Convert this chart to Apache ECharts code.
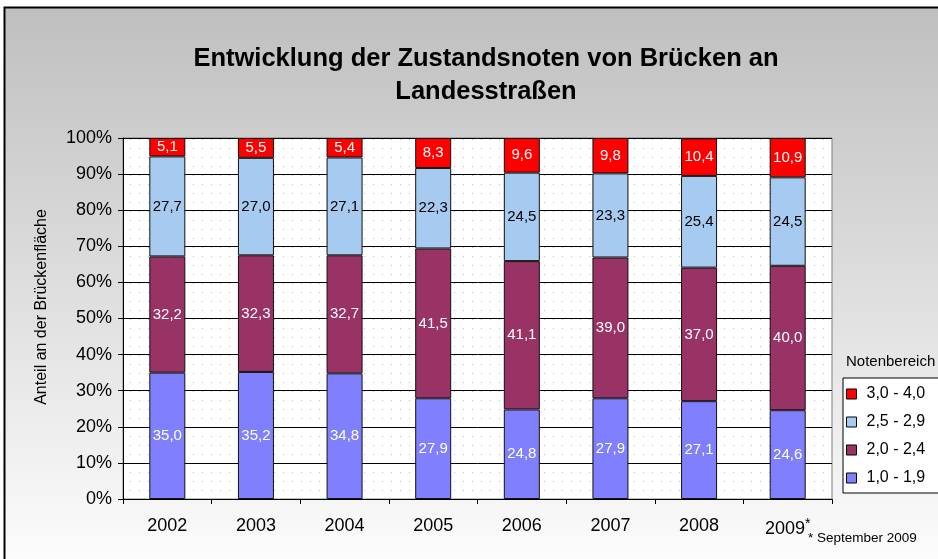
<!DOCTYPE html>
<html>
<head>
<meta charset="utf-8">
<script src="https://cdn.jsdelivr.net/npm/echarts@6/dist/echarts.min.js"></script>
<style>
  html, body { margin: 0; padding: 0; background: #fff; }
  #chart { width: 938px; height: 559px; }
</style>
</head>
<body>
<div id="chart"></div>
<script>
// Jahre und Anteile je Notenbereich (in %)
const years = ['2002', '2003', '2004', '2005', '2006', '2007', '2008', '2009*'];
const seriesNames = ['1,0 - 1,9', '2,0 - 2,4', '2,5 - 2,9', '3,0 - 4,0'];
const note10_19 = [35.0, 35.2, 34.8, 27.9, 24.8, 27.9, 27.1, 24.6];
const note20_24 = [32.2, 32.3, 32.7, 41.5, 41.1, 39.0, 37.0, 40.0];
const note25_29 = [27.7, 27.0, 27.1, 22.3, 24.5, 23.3, 25.4, 24.5];
const note30_40 = [5.1, 5.5, 5.4, 8.3, 9.6, 9.8, 10.4, 10.9];
const yTicks = [0, 10, 20, 30, 40, 50, 60, 70, 80, 90, 100];

const colors = ['#8080FF', '#993366', '#A6CAF0', '#FF0000'];
const labelColors = ['#fff', '#fff', '#000', '#fff'];
const values = [note10_19, note20_24, note25_29, note30_40];

// punktiertes Muster fuer die Zeichenflaeche
const dots = document.createElement('canvas');
dots.width = 9;
dots.height = 9;
const dctx = dots.getContext('2d');
dctx.fillStyle = '#fff';
dctx.fillRect(0, 0, 9, 9);
dctx.fillStyle = '#bdbdbd';
dctx.fillRect(4, 4, 1, 1);

const fmt = (v) => v.toFixed(1).replace('.', ',');

const series = values.map((data, i) => ({
  type: 'bar',
  name: seriesNames[i],
  stack: 'total',
  barWidth: 36,
  data: data,
  itemStyle: {
    color: colors[i],
    borderColor: '#111',
    borderWidth: 1
  },
  label: {
    show: true,
    position: 'inside',
    color: labelColors[i],
    fontFamily: 'Liberation Sans',
    fontSize: 15,
    formatter: (p) => fmt(p.value)
  }
}));

const option = {
  animation: false,
  textStyle: { fontFamily: 'Liberation Sans' },
  graphic: [{
    type: 'rect',
    z: -100,
    silent: true,
    shape: { x: 4.5, y: 7.5, width: 1000, height: 1000 },
    style: {
      fill: new echarts.graphic.LinearGradient(0, 0, 0, 1, [
        { offset: 0, color: '#bfbfbf' },
        { offset: 0.58, color: '#ffffff' },
        { offset: 1, color: '#ffffff' }
      ]),
      stroke: '#000',
      lineWidth: 2
    }
  }, {
    type: 'text',
    left: 846,
    top: 354,
    style: {
      text: 'Notenbereich',
      fontFamily: 'Liberation Sans',
      fontSize: 15,
      fill: '#000'
    }
  }, {
    type: 'text',
    left: 808,
    top: 531,
    style: {
      text: '* September 2009',
      fontFamily: 'Liberation Sans',
      fontSize: 13.5,
      fill: '#000'
    }
  }, {
    type: 'text',
    x: 42,
    y: 307,
    rotation: Math.PI / 2,
    style: {
      text: 'Anteil an der Brückenfläche',
      fontFamily: 'Liberation Sans',
      fontSize: 16,
      fill: '#000',
      align: 'center',
      verticalAlign: 'middle'
    }
  }],
  title: {
    text: 'Entwicklung der Zustandsnoten von Brücken an\nLandesstraßen',
    left: 481,
    textAlign: 'center',
    top: 37,
    textStyle: {
      fontFamily: 'Liberation Sans',
      fontSize: 25.5,
      fontWeight: 'bold',
      color: '#000',
      lineHeight: 33
    }
  },
  legend: {
    orient: 'vertical',
    left: 843,
    top: 378,
    data: seriesNames.slice().reverse(),
    icon: 'rect',
    itemWidth: 10,
    itemHeight: 10,
    itemGap: 12,
    padding: [8, 60, 7, 3],
    borderColor: '#000',
    borderWidth: 1,
    backgroundColor: '#fff',
    selectedMode: false,
    itemStyle: { borderColor: '#000', borderWidth: 1 },
    textStyle: { fontFamily: 'Liberation Sans', fontSize: 16, color: '#000', padding: [0, 0, 0, 5] }
  },
  grid: {
    left: 123,
    top: 138,
    width: 709,
    height: 361,
    show: true,
    backgroundColor: { image: dots, repeat: 'repeat' },
    borderColor: '#808080',
    borderWidth: 1
  },
  xAxis: {
    type: 'category',
    data: years,
    axisLine: { lineStyle: { color: '#000' } },
    axisTick: { show: true, length: 5, lineStyle: { color: '#000' } },
    axisLabel: {
      interval: 0,
      margin: 18,
      fontSize: 18,
      color: '#000',
      formatter: (v) => v.endsWith('*') ? v.slice(0, -1) + '{s|*}' : v,
      rich: { s: { fontSize: 14, verticalAlign: 'top', padding: [0, 0, 10, 0] } }
    }
  },
  yAxis: {
    type: 'value',
    min: yTicks[0],
    max: yTicks[yTicks.length - 1],
    interval: yTicks[1] - yTicks[0],
    axisLine: { show: true, lineStyle: { color: '#000' } },
    axisTick: { show: true, length: 5, lineStyle: { color: '#000' } },
    axisLabel: { fontSize: 18, color: '#000', margin: 11, formatter: '{value}%' },
    splitLine: { show: true, lineStyle: { color: '#000', width: 1 } }
  },
  series: series
};

const chart = echarts.init(document.getElementById('chart'));
chart.setOption(option);
</script>
</body>
</html>
